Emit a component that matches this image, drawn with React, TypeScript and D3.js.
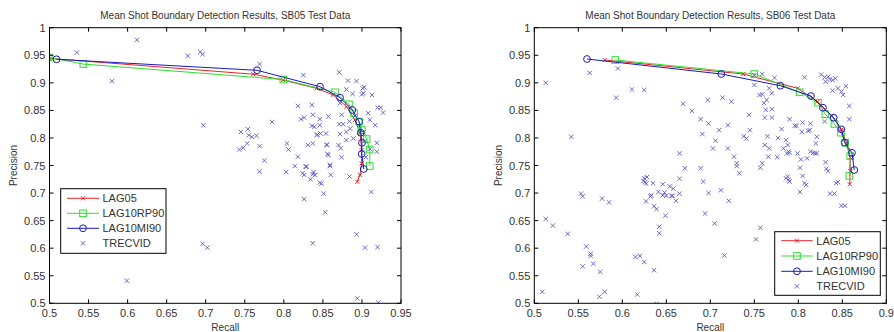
import React from "react";
import * as d3 from "d3";

// ---------- data ----------
const xTicksLeft = [0.5, 0.55, 0.6, 0.65, 0.7, 0.75, 0.8, 0.85, 0.9, 0.95];
const xTicksRight = [0.5, 0.55, 0.6, 0.65, 0.7, 0.75, 0.8, 0.85, 0.9];
const yTicks = [0.5, 0.55, 0.6, 0.65, 0.7, 0.75, 0.8, 0.85, 0.9, 0.95, 1];
const seriesNames = ["LAG05", "LAG10RP90", "LAG10MI90", "TRECVID"];

// SB05 (left)
const lag05LeftRecall = [0.497, 0.503, 0.761, 0.799, 0.842, 0.8633, 0.8805, 0.8911, 0.8975, 0.8997, 0.8997, 0.8975, 0.894];
const lag05LeftPrec = [0.9455, 0.944, 0.9156, 0.905, 0.89, 0.878, 0.8567, 0.8325, 0.809, 0.778, 0.754, 0.733, 0.7206];
const lagrpLeftRecall = [0.499, 0.5433, 0.7993, 0.8655, 0.8834, 0.89, 0.8966, 0.8997, 0.906, 0.91, 0.91];
const lagrpLeftPrec = [0.946, 0.934, 0.906, 0.8828, 0.861, 0.8447, 0.8295, 0.8144, 0.798, 0.779, 0.749];
const lagmiLeftRecall = [0.509, 0.7657, 0.8463, 0.872, 0.8877, 0.8963, 0.8984, 0.9, 0.8997, 0.9023];
const lagmiLeftPrec = [0.9427, 0.9227, 0.893, 0.873, 0.8507, 0.8295, 0.8095, 0.791, 0.771, 0.7437];
const trecvidLeft: [number, number][] = [
  [0.535, 0.955], [0.612, 0.978], [0.58, 0.903], [0.677, 0.949], [0.693, 0.956], [0.696, 0.952], [0.697, 0.823], [0.769, 0.934],
  [0.745, 0.811], [0.754, 0.816], [0.755, 0.805], [0.759, 0.802], [0.765, 0.804], [0.743, 0.779], [0.748, 0.782], [0.753, 0.79], [0.769, 0.785],
  [0.785, 0.829], [0.775, 0.759], [0.804, 0.79], [0.806, 0.779], [0.818, 0.766], [0.818, 0.858], [0.825, 0.914], [0.822, 0.834], [0.826, 0.837],
  [0.836, 0.86], [0.837, 0.842], [0.836, 0.822], [0.839, 0.82], [0.846, 0.834], [0.847, 0.808], [0.843, 0.806], [0.857, 0.839], [0.855, 0.787], [0.857, 0.769],
  [0.871, 0.919], [0.882, 0.904], [0.893, 0.903], [0.872, 0.863], [0.874, 0.842], [0.871, 0.825], [0.872, 0.807], [0.87, 0.787], [0.873, 0.781], [0.874, 0.765],
  [0.88, 0.888], [0.888, 0.88], [0.901, 0.89], [0.902, 0.881], [0.903, 0.892], [0.9, 0.879], [0.913, 0.878], [0.908, 0.845], [0.91, 0.833], [0.917, 0.823],
  [0.92, 0.855], [0.924, 0.855], [0.927, 0.846], [0.919, 0.791], [0.919, 0.775],
  [0.876, 0.825], [0.88, 0.811], [0.88, 0.796], [0.885, 0.817], [0.889, 0.799], [0.884, 0.83], [0.891, 0.84], [0.846, 0.823], [0.854, 0.808],
  [0.842, 0.805], [0.855, 0.788], [0.856, 0.771], [0.859, 0.751], [0.831, 0.787], [0.837, 0.79], [0.902, 0.81], [0.904, 0.795], [0.91, 0.78], [0.905, 0.765],
  [0.769, 0.739], [0.803, 0.738], [0.814, 0.749], [0.826, 0.733], [0.829, 0.748], [0.834, 0.725], [0.837, 0.734], [0.838, 0.738], [0.846, 0.719],
  [0.848, 0.717], [0.851, 0.699], [0.859, 0.749], [0.86, 0.733], [0.826, 0.689], [0.853, 0.665], [0.837, 0.609], [0.884, 0.73], [0.912, 0.702],
  [0.893, 0.625], [0.904, 0.601], [0.92, 0.602], [0.696, 0.608], [0.702, 0.601], [0.599, 0.541], [0.894, 0.509], [0.921, 0.501],
  [0.828, 0.748], [0.84, 0.733], [0.824, 0.736],
];

// SB06 (right)
const lag05RightRecall = [0.58, 0.7372, 0.7993, 0.822, 0.838, 0.849, 0.855, 0.859, 0.859, 0.8584];
const lag05RightPrec = [0.9414, 0.916, 0.89, 0.866, 0.84, 0.815, 0.79, 0.765, 0.74, 0.716];
const lagrpRightRecall = [0.592, 0.75, 0.8016, 0.8224, 0.8307, 0.841, 0.8485, 0.8534, 0.859, 0.858];
const lagrpRightPrec = [0.9414, 0.916, 0.8828, 0.864, 0.843, 0.8253, 0.8095, 0.7914, 0.767, 0.731];
const lagmiRightRecall = [0.5599, 0.7125, 0.7796, 0.8144, 0.828, 0.8402, 0.8489, 0.8527, 0.861, 0.8636];
const lagmiRightPrec = [0.9432, 0.916, 0.8948, 0.876, 0.8549, 0.8367, 0.8157, 0.7914, 0.773, 0.7418];
const trecvidRight: [number, number][] = [
  [0.513, 0.9], [0.542, 0.802], [0.563, 0.918], [0.595, 0.926], [0.593, 0.873], [0.611, 0.888], [0.625, 0.887], [0.669, 0.862],
  [0.679, 0.849], [0.689, 0.834], [0.697, 0.869], [0.698, 0.826], [0.691, 0.807], [0.706, 0.795], [0.703, 0.781], [0.714, 0.873],
  [0.724, 0.866], [0.72, 0.823], [0.71, 0.814], [0.72, 0.781], [0.665, 0.772], [0.727, 0.766], [0.73, 0.754], [0.744, 0.842],
  [0.745, 0.814], [0.738, 0.803], [0.741, 0.799], [0.75, 0.914], [0.759, 0.916], [0.773, 0.909], [0.75, 0.896], [0.756, 0.878],
  [0.759, 0.879], [0.767, 0.89], [0.77, 0.881], [0.761, 0.863], [0.763, 0.851], [0.77, 0.852], [0.762, 0.837], [0.77, 0.837],
  [0.764, 0.869], [0.765, 0.803], [0.762, 0.787], [0.767, 0.781], [0.766, 0.766], [0.759, 0.754], [0.776, 0.765], [0.781, 0.816],
  [0.777, 0.8], [0.786, 0.796], [0.788, 0.787], [0.783, 0.781], [0.789, 0.775], [0.787, 0.772], [0.79, 0.773], [0.79, 0.834],
  [0.796, 0.822], [0.798, 0.822], [0.807, 0.91], [0.804, 0.811], [0.811, 0.813], [0.813, 0.814], [0.805, 0.828], [0.814, 0.826],
  [0.821, 0.802], [0.82, 0.79], [0.81, 0.763], [0.814, 0.775], [0.817, 0.773], [0.821, 0.772], [0.819, 0.772], [0.799, 0.772],
  [0.803, 0.761], [0.826, 0.915], [0.83, 0.91], [0.834, 0.911], [0.836, 0.906], [0.839, 0.905], [0.831, 0.902], [0.842, 0.908],
  [0.839, 0.886], [0.845, 0.89], [0.849, 0.884], [0.851, 0.878], [0.854, 0.894], [0.858, 0.858], [0.858, 0.834], [0.83, 0.83],
  [0.831, 0.756],
  [0.509, 0.521], [0.513, 0.653], [0.521, 0.641], [0.538, 0.626], [0.553, 0.699], [0.555, 0.694], [0.559, 0.603], [0.564, 0.59],
  [0.564, 0.586], [0.555, 0.567], [0.567, 0.572], [0.575, 0.557], [0.574, 0.512], [0.58, 0.521], [0.577, 0.69], [0.585, 0.683],
  [0.615, 0.584], [0.62, 0.586], [0.617, 0.516], [0.625, 0.727], [0.624, 0.722], [0.626, 0.72], [0.628, 0.729], [0.627, 0.717],
  [0.627, 0.685], [0.625, 0.575], [0.633, 0.696], [0.632, 0.694], [0.635, 0.718], [0.636, 0.676], [0.639, 0.671], [0.636, 0.56],
  [0.639, 0.499], [0.642, 0.639], [0.642, 0.627], [0.641, 0.702], [0.646, 0.696], [0.65, 0.695], [0.648, 0.701], [0.646, 0.716],
  [0.649, 0.659], [0.654, 0.712], [0.656, 0.695], [0.657, 0.695], [0.658, 0.708], [0.661, 0.686], [0.665, 0.699], [0.665, 0.726],
  [0.671, 0.745], [0.689, 0.745], [0.692, 0.721], [0.694, 0.663], [0.698, 0.7], [0.705, 0.645], [0.712, 0.705], [0.716, 0.587],
  [0.721, 0.686], [0.733, 0.736], [0.73, 0.749], [0.752, 0.616], [0.757, 0.637], [0.757, 0.746], [0.786, 0.727], [0.789, 0.724],
  [0.79, 0.721], [0.788, 0.73], [0.802, 0.702], [0.802, 0.746], [0.805, 0.731], [0.807, 0.718], [0.809, 0.715], [0.832, 0.744],
  [0.834, 0.74], [0.836, 0.699], [0.841, 0.699], [0.843, 0.718], [0.845, 0.72], [0.849, 0.677], [0.853, 0.677],
];

// ---------- styling ----------
const RED = "#e8262a";
const GREEN = "#2ee02e";
const BLUE = "#1a1ac0";
const XCOL = "#5a5ac8";
const FONT = "'Liberation Sans', Arial, Helvetica, sans-serif";
const TXT = "#333";

type Panel = {
  title: string;
  x0: number; x1: number;
  xDomain: [number, number];
  xTicks: number[];
  lag05: [number[], number[]];
  lagrp: [number[], number[]];
  lagmi: [number[], number[]];
  trec: [number, number][];
  legend: { x0: number; x1: number; y0: number; y1: number; rows: number[]; lx0: number; lx1: number; tx: number };
  ylabelX: number;
  id: string;
};

const TOP = 27.7;
const BOTTOM = 303.3;

const panels: Panel[] = [
  {
    id: "l",
    title: "Mean Shot Boundary Detection Results, SB05 Test Data",
    x0: 49.5, x1: 401,
    xDomain: [0.5, 0.95],
    xTicks: xTicksLeft,
    lag05: [lag05LeftRecall, lag05LeftPrec],
    lagrp: [lagrpLeftRecall, lagrpLeftPrec],
    lagmi: [lagmiLeftRecall, lagmiLeftPrec],
    trec: trecvidLeft,
    legend: { x0: 60.7, x1: 166, y0: 188.7, y1: 253.3, rows: [198.3, 213.3, 228.3, 243.3], lx0: 67, lx1: 99, tx: 102.5 },
    ylabelX: 17,
  },
  {
    id: "r",
    title: "Mean Shot Boundary Detection Results, SB06 Test Data",
    x0: 534.3, x1: 886.3,
    xDomain: [0.5, 0.9],
    xTicks: xTicksRight,
    lag05: [lag05RightRecall, lag05RightPrec],
    lagrp: [lagrpRightRecall, lagrpRightPrec],
    lagmi: [lagmiRightRecall, lagmiRightPrec],
    trec: trecvidRight,
    legend: { x0: 774.7, x1: 880.3, y0: 231.7, y1: 295.3, rows: [240.7, 256, 271.3, 286.3], lx0: 781.3, lx1: 812.7, tx: 816.3 },
    ylabelX: 502,
  },
];

const XMark = ({ x, y, s, c, w = 1 }: { x: number; y: number; s: number; c: string; w?: number }) => (
  <path d={`M${x - s},${y - s}L${x + s},${y + s}M${x - s},${y + s}L${x + s},${y - s}`} stroke={c} strokeWidth={w} fill="none" />
);

function PanelView({ p }: { p: Panel }) {
  const x = d3.scaleLinear().domain(p.xDomain).range([p.x0, p.x1]);
  const y = d3.scaleLinear().domain([0.5, 1]).range([BOTTOM, TOP]);
  const line = d3.line<[number, number]>().x((d) => x(d[0])).y((d) => y(d[1]));
  const zip = (a: [number[], number[]]) => a[0].map((v, i) => [v, a[1][i]] as [number, number]);
  const red = zip(p.lag05);
  const green = zip(p.lagrp);
  const blue = zip(p.lagmi);
  const TL = 4;
  const lg = p.legend;
  const mid = (lg.lx0 + lg.lx1) / 2;
  return (
    <g>
      <defs>
        <clipPath id={`clip-${p.id}`}>
          <rect x={p.x0} y={TOP} width={p.x1 - p.x0} height={BOTTOM - TOP} />
        </clipPath>
      </defs>
      <text x={(p.x0 + p.x1) / 2} y={18.5} textAnchor="middle" fontSize={10} fill={TXT} fontFamily={FONT}>{p.title}</text>
      <g clipPath={`url(#clip-${p.id})`}>
        <path d={line(red) || ""} stroke={RED} strokeWidth={1} fill="none" />
        {red.map((d, i) => <XMark key={"r" + i} x={x(d[0])} y={y(d[1])} s={2} c={RED} />)}
        <path d={line(green) || ""} stroke={GREEN} strokeWidth={1} fill="none" />
        {green.map((d, i) => (
          <rect key={"g" + i} x={x(d[0]) - 3.3} y={y(d[1]) - 3.3} width={6.6} height={6.6} stroke={GREEN} strokeWidth={1} fill="none" />
        ))}
        <path d={line(blue) || ""} stroke={BLUE} strokeWidth={1} fill="none" />
        {blue.map((d, i) => (
          <circle key={"b" + i} cx={x(d[0])} cy={y(d[1])} r={3.4} stroke={BLUE} strokeWidth={1} fill="none" />
        ))}
        {p.trec.map((d, i) => <XMark key={"t" + i} x={x(d[0])} y={y(d[1])} s={2.2} c={XCOL} w={0.9} />)}
      </g>
      {/* axes box */}
      <rect x={p.x0} y={TOP} width={p.x1 - p.x0} height={BOTTOM - TOP} fill="none" stroke="#000" strokeWidth={1} />
      {p.xTicks.map((t) => (
        <g key={"xt" + t}>
          <line x1={x(t)} x2={x(t)} y1={BOTTOM} y2={BOTTOM - TL} stroke="#000" />
          <line x1={x(t)} x2={x(t)} y1={TOP} y2={TOP + TL} stroke="#000" />
          <text x={x(t)} y={316.5} textAnchor="middle" fontSize={11} fill={TXT} fontFamily={FONT}>{d3.format("")(t)}</text>
        </g>
      ))}
      {yTicks.map((t) => (
        <g key={"yt" + t}>
          <line x1={p.x0} x2={p.x0 + TL} y1={y(t)} y2={y(t)} stroke="#000" />
          <line x1={p.x1} x2={p.x1 - TL} y1={y(t)} y2={y(t)} stroke="#000" />
          <text x={p.x0 - 4} y={y(t) + 4} textAnchor="end" fontSize={11} fill={TXT} fontFamily={FONT}>{d3.format("")(t)}</text>
        </g>
      ))}
      <text x={(p.x0 + p.x1) / 2} y={331} textAnchor="middle" fontSize={10} fill={TXT} fontFamily={FONT}>Recall</text>
      <text transform={`translate(${p.ylabelX},${(TOP + BOTTOM) / 2}) rotate(-90)`} textAnchor="middle" fontSize={10} fill={TXT} fontFamily={FONT}>Precision</text>
      {/* legend */}
      <rect x={lg.x0} y={lg.y0} width={lg.x1 - lg.x0} height={lg.y1 - lg.y0} fill="#fff" stroke="#000" strokeWidth={1} />
      <line x1={lg.lx0} x2={lg.lx1} y1={lg.rows[0]} y2={lg.rows[0]} stroke={RED} />
      <XMark x={mid} y={lg.rows[0]} s={2} c={RED} />
      <line x1={lg.lx0} x2={lg.lx1} y1={lg.rows[1]} y2={lg.rows[1]} stroke={GREEN} />
      <rect x={mid - 3.3} y={lg.rows[1] - 3.3} width={6.6} height={6.6} fill="none" stroke={GREEN} />
      <line x1={lg.lx0} x2={lg.lx1} y1={lg.rows[2]} y2={lg.rows[2]} stroke={BLUE} />
      <circle cx={mid} cy={lg.rows[2]} r={3.4} fill="none" stroke={BLUE} />
      <XMark x={mid} y={lg.rows[3]} s={2.2} c={XCOL} w={0.9} />
      {seriesNames.map((n, i) => (
        <text key={n} x={lg.tx} y={lg.rows[i] + 4} fontSize={11} fill={TXT} fontFamily={FONT}>{n}</text>
      ))}
    </g>
  );
}

export default function App() {
  return (
    <svg width={894} height={332} style={{ position: "absolute", left: 0, top: 0, background: "#fff" }}>
      <rect x={0} y={0} width={894} height={332} fill="#fff" />
      {panels.map((p) => <PanelView key={p.id} p={p} />)}
    </svg>
  );
}
